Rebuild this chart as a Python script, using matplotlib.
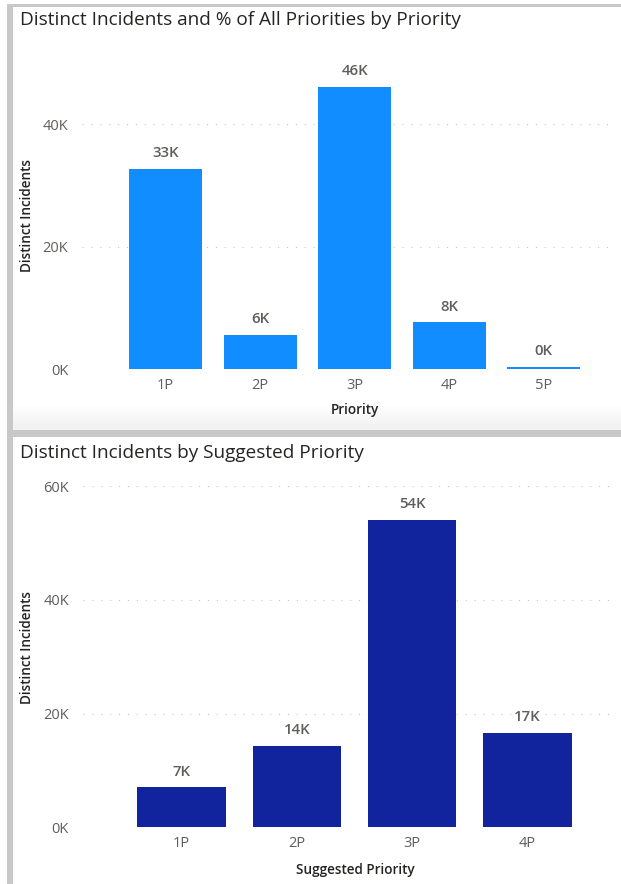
import matplotlib
matplotlib.use("Agg")
import matplotlib.pyplot as plt
import numpy as np
from matplotlib.patches import Rectangle

plt.rcParams['font.family'] = ['Open Sans', 'DejaVu Sans']

# ---- data ----
priority_labels = ["1P", "2P", "3P", "4P", "5P"]
priority_counts = [32750, 5650, 46100, 7670, 330]

suggested_labels = ["1P", "2P", "3P", "4P"]
suggested_counts = [7030, 14340, 54000, 16570]

top_ticks = [0, 20000, 40000]
bottom_ticks = [0, 20000, 40000, 60000]

# ---- style ----
W, H = 621, 884
BLUE = "#118DFF"
NAVY = "#12239E"
TITLE_C = "#252423"
TICK_C = "#605E5C"
LABEL_C = "#605E5C"
AXTITLE_C = "#252423"
GRID_C = "#C8C6C4"
FRAME_C = "#C8C8C8"

fig = plt.figure(figsize=(W / 100, H / 100), dpi=100)
fig.patch.set_facecolor("white")


def fx(x):
    return x / W


def fy(y):
    return 1 - y / H


def add_rect(x0, y0, x1, y1, color):
    fig.patches.append(Rectangle((fx(x0), fy(y1)), fx(x1) - fx(x0), fy(y0) - fy(y1),
                                 transform=fig.transFigure, color=color, lw=0, zorder=0))


# soft shadow at the foot of the upper card
sh = fig.add_axes([fx(13), fy(430), fx(621) - fx(13), fy(405) - fy(430)], zorder=0)
grad = np.linspace(1.0, 0.945, 60).reshape(-1, 1)
sh.imshow(np.dstack([grad, grad, grad]), aspect="auto", extent=(0, 1, 0, 1))
sh.axis("off")

# card frame
add_rect(7, 4, 13, H, FRAME_C)
add_rect(7, 4, W, 7, FRAME_C)
add_rect(7, 430, W, 437, FRAME_C)


def k_fmt(v):
    return f"{round(v / 1000)}K"


def panel(rect_px, cats, vals, ticks, ylim, xlim, width, color, title, title_y,
          xtitle, xtitle_y, ytitle_x, ytitle_y):
    left, top, right, bottom = rect_px
    ax = fig.add_axes([fx(left), fy(bottom), fx(right) - fx(left), fy(top) - fy(bottom)])
    ax.set_facecolor("none")
    x = np.arange(len(cats))
    ax.bar(x, vals, width=width, color=color, zorder=3)
    for xi, v in zip(x, vals):
        ax.annotate(k_fmt(v), (xi, v), xytext=(0, 8.5), textcoords="offset points",
                    ha="center", va="baseline", fontsize=10.8, color=LABEL_C,
                    fontweight="semibold")
    ax.set_xlim(*xlim)
    ax.set_ylim(*ylim)
    ax.set_yticks(ticks)
    ax.set_yticklabels([k_fmt(t) for t in ticks])
    ax.set_xticks(x)
    ax.set_xticklabels(cats)
    ax.tick_params(axis="both", length=0, colors=TICK_C, labelsize=10.5)
    ax.tick_params(axis="y", pad=10)
    ax.tick_params(axis="x", pad=6)
    for s in ax.spines.values():
        s.set_visible(False)
    ax.grid(axis="y", color=GRID_C, linestyle=(0, (1, 7)), linewidth=0.8, zorder=0)
    ax.set_axisbelow(True)

    fig.text(fx(20), fy(title_y), title, ha="left", va="center", fontsize=13.7,
             color=TITLE_C)
    fig.text(fx(355), fy(xtitle_y), xtitle, ha="center", va="center", fontsize=9.8,
             color=AXTITLE_C, fontweight="semibold")
    fig.text(fx(ytitle_x), fy(ytitle_y), "Distinct Incidents", ha="center", va="center",
             rotation=90, fontsize=9.8, color=AXTITLE_C, fontweight="semibold")
    return ax


panel((82, 63.3, 610, 369.3), priority_labels, priority_counts, top_ticks,
      (0, 50000), (-0.886, 4.702), 0.772, BLUE,
      "Distinct Incidents and % of All Priorities by Priority", 20,
      "Priority", 410, 27, 216)

panel((82.7, 486, 614, 827.3), suggested_labels, suggested_counts, bottom_ticks,
      (0, 60000), (-0.857, 3.751), 0.766, NAVY,
      "Distinct Incidents by Suggested Priority", 453,
      "Suggested Priority", 870, 27, 647)

fig.savefig("out.png", dpi=100, facecolor="white")
